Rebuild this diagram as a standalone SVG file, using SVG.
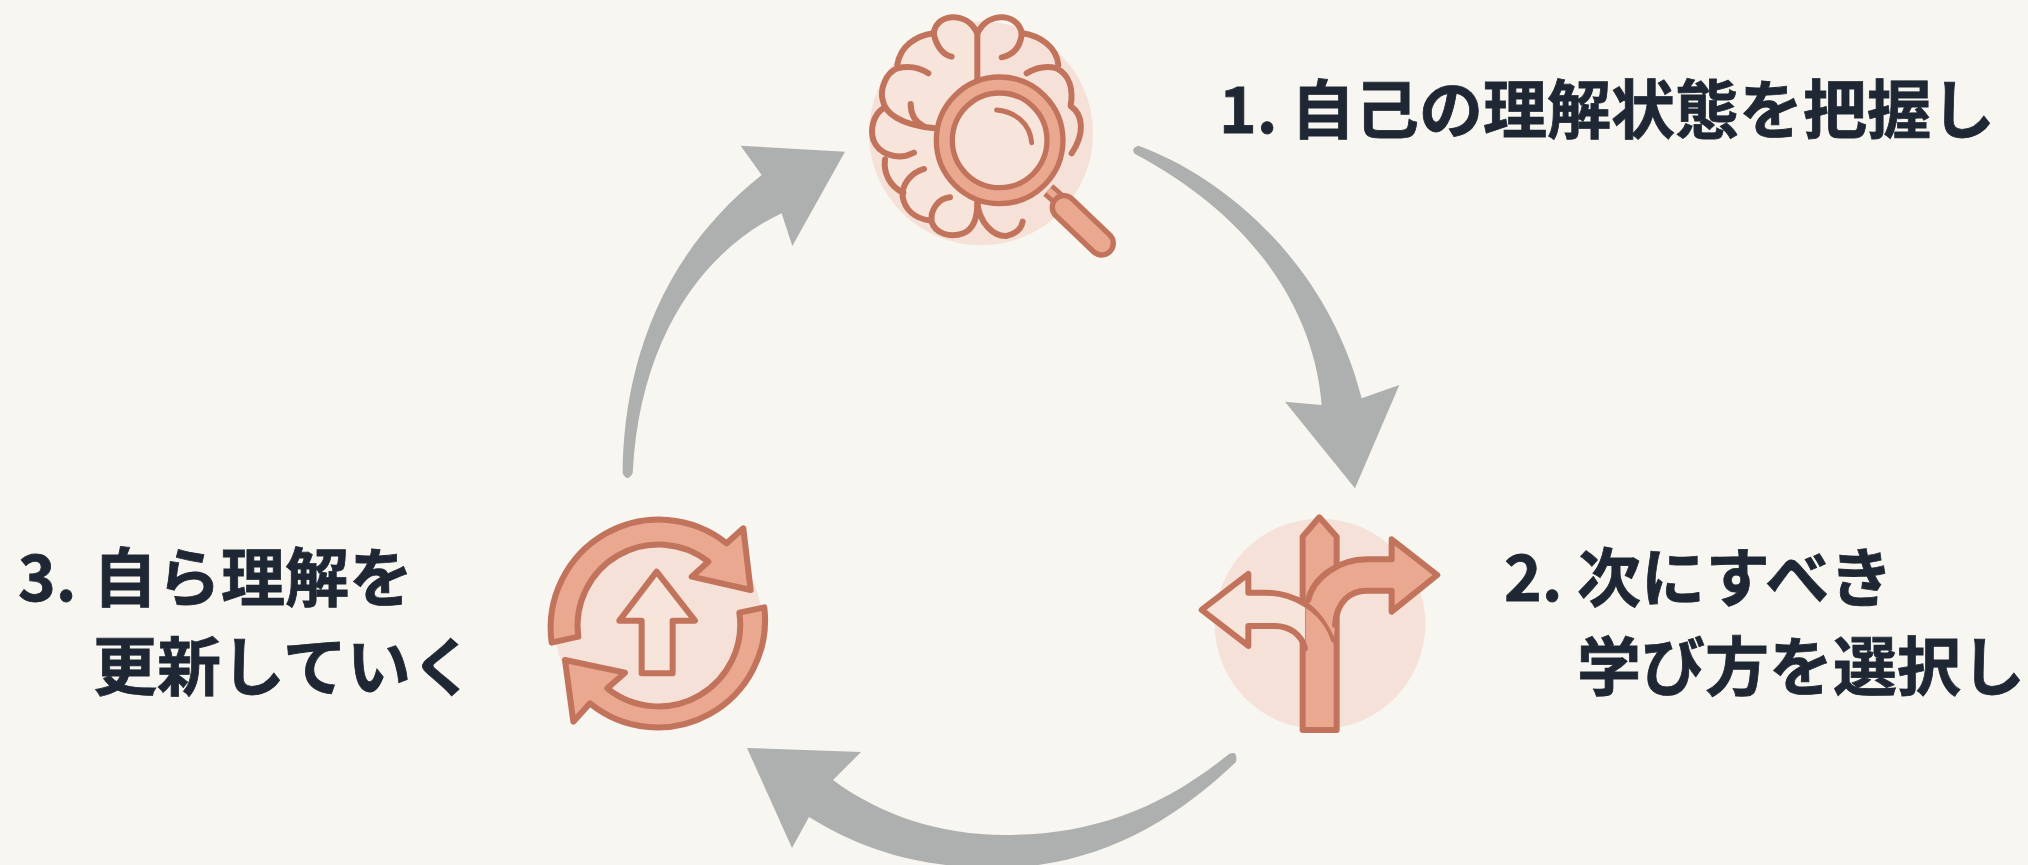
<svg xmlns="http://www.w3.org/2000/svg" width="2028" height="865" viewBox="0 0 2028 865">
<style>
.bg{fill:#f7f6f0}
.disc{fill:#f6e1d8}
.ln{fill:none;stroke:#c2735c;stroke-linecap:round;stroke-linejoin:round}
.o{stroke:#c2735c;stroke-width:18;stroke-linejoin:round;stroke-linecap:round}
.mid{fill:#e9a88f}
.pale{fill:#f7e5dc}
.arrow{fill:#aeafaf}
text{font-family:"Noto Sans CJK JP","Noto Sans",sans-serif;font-weight:700;font-size:64px;fill:#1e2733;stroke:#1e2733;stroke-width:.8}
</style>
<rect class="bg" width="2028" height="865"/>
<g id="connectors">
<path class="arrow" transform="translate(1110,130) scale(.3333)" d="M85,47C330,135 650,390 755,805L868,765L735,1075L525,815L635,825C615,560 450,270 75,72Q60,55 85,47Z"/>
<path class="arrow" d="M1229,754C1160,810 1090,835 1005,835C940,835 880,815 833,780L861,752L747,748L792,848L809,817C870,855 930,868 1000,868C1100,866 1175,820 1236,762Q1238,750 1229,754Z"/>
<path class="arrow" transform="translate(610,130) scale(.3333)" d="M38,1030C40,760 120,400 455,135L392,47L705,65L547,348L515,250C300,350 90,600 68,1030Q52,1058 38,1030Z"/>
</g>
<g id="node-1" transform="translate(840,0) scale(.3333)">
<circle class="disc" cx="423" cy="400" r="336"/>
<path class="pale" d="M412,100C395,65 365,50 335,52C300,55 280,80 282,100C225,108 180,140 172,205C135,220 120,270 130,325C100,345 90,385 100,420C105,445 120,465 135,478C130,520 150,560 190,585C195,630 225,655 270,662C285,700 330,715 370,700C395,690 408,665 412,640L412,100Z"/>
<g class="ln" stroke-width="18">
<path d="M412,235V100C395,65 365,50 335,52C300,55 280,80 282,105C290,140 310,165 335,170"/>
<path d="M280,100C225,108 180,140 172,195"/>
<path d="M265,220C235,200 200,198 172,205C135,220 120,270 128,300C135,340 180,375 285,385"/>
<path d="M212,312C212,340 225,365 250,378"/>
<path d="M130,325C100,345 90,385 100,420C115,460 170,485 222,458"/>
<path d="M135,478C130,520 150,560 190,578"/>
<path d="M252,507C210,520 185,555 188,590C195,630 225,655 270,662"/>
<path d="M330,592C295,595 270,630 275,665C285,700 330,715 370,700C395,690 412,665 412,610"/>
<path d="M412,610C420,670 460,710 500,708C530,700 545,685 548,665"/>
<path d="M412,100C430,65 460,50 490,52C525,55 545,80 545,105C540,140 520,165 485,172"/>
<path d="M548,100C600,108 650,140 655,195"/>
<path d="M560,220C590,200 625,198 650,205C690,225 700,270 692,318C730,345 735,400 695,460"/>
</g>
<path d="M625,570L665,605" fill="none" stroke="#c2735c" stroke-width="46"/>
<path d="M625,570L665,605" fill="none" stroke="#e9a88f" stroke-width="18"/>
<path d="M672,622L785,730" fill="none" stroke="#c2735c" stroke-width="86" stroke-linecap="round"/>
<path d="M672,622L785,730" fill="none" stroke="#e9a88f" stroke-width="54" stroke-linecap="round"/>
<circle cx="479" cy="421" r="166" class="pale"/>
<circle cx="479" cy="421" r="166" fill="none" stroke="#c2735c" stroke-width="64"/>
<circle cx="479" cy="421" r="166" fill="none" stroke="#e9a88f" stroke-width="32"/>
<path class="ln" stroke-width="15" d="M470,330C525,335 570,370 575,428"/>
</g>
<g id="node-2" transform="translate(1180,500) scale(.3333)">
<circle class="disc" cx="420" cy="372" r="316"/>
<path class="mid o" d="M368,690V110L418,52L470,110V690Z"/>
<path class="pale" d="M65,330L205,222V278H255C310,278 350,290 375,305V440C365,405 330,378 285,378H205V438Z"/>
<path class="ln" stroke-width="18" d="M375,445C365,405 330,378 285,378H205V438L65,330L205,222V278H255C330,278 430,320 462,420"/>
<path class="mid" d="M385,300C400,230 480,178 560,178H635V118L772,225L635,335V272H560C510,272 470,305 465,375L462,410C440,360 410,325 380,305Z"/>
<path class="ln" stroke-width="18" d="M385,300C400,230 480,178 560,178H635V118L772,225L635,335V272H560C510,272 470,305 465,375"/>
</g>
<g id="node-3" transform="translate(530,500) scale(.3333)">
<circle class="disc" cx="385" cy="372" r="312"/>
<path class="mid o" d="M65,428A325,325 0 0 1 590,130L640,85L662,270L485,230L535,185A243,243 0 0 0 145,410Z"/>
<path class="mid o" d="M703,322A322,322 0 0 1 180,610L130,665L105,480L285,518L232,565A245,245 0 0 0 628,338Z"/>
<path class="pale o" d="M380,215L495,362H428V520H335V362H268Z"/>
</g>
<g id="label-1"><text x="1219" y="133">1.</text><text x="1291" y="133">自己の理解状態を把握し</text></g>
<g id="label-2"><text x="1504" y="601">2.</text><text x="1577" y="601">次にすべき</text><text x="1577" y="690">学び方を選択し</text></g>
<g id="label-3"><text x="18" y="601">3.</text><text x="93" y="601">自ら理解を</text><text x="93" y="690">更新していく</text></g>
</svg>
